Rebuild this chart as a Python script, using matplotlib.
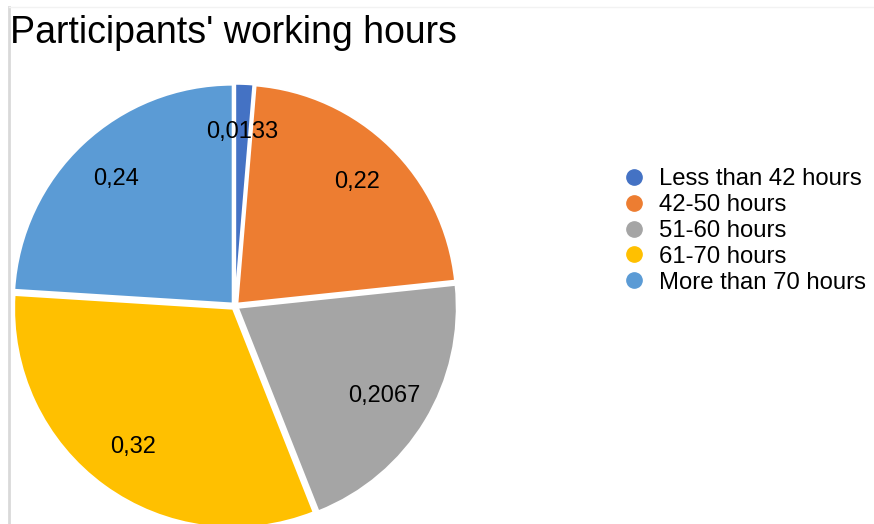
import matplotlib.pyplot as plt
from matplotlib.lines import Line2D

plt.rcParams['font.family'] = ['Liberation Sans', 'DejaVu Sans']

categories = ["Less than 42 hours", "42-50 hours", "51-60 hours", "61-70 hours", "More than 70 hours"]
values = [0.0133, 0.22, 0.2067, 0.32, 0.24]
colors = ["#4472C4", "#ED7D31", "#A5A5A5", "#FFC000", "#5B9BD5"]

W, H = 874, 524
fig = plt.figure(figsize=(W / 100, H / 100), dpi=100)

# pie axes: centre and radius in pixels
cx, cy, r = 235, 306, 219
ax = fig.add_axes([(cx - r) / W, (H - cy - r) / H, 2 * r / W, 2 * r / H])
wedges, texts, autotexts = ax.pie(values, colors=colors, startangle=90, counterclock=False,
                                  explode=[0.015] * len(values), autopct="%1.1f",
                                  pctdistance=0.78,
                                  wedgeprops=dict(edgecolor="white", linewidth=1.5))
for w in wedges:
    w.set_clip_on(False)
for t, v in zip(autotexts, values):
    t.set_text(str(v).replace(".", ","))
    t.set_fontsize(17)
    t.set_color("black")
ax.set_xlim(-1, 1)
ax.set_ylim(-1, 1)
ax.set_aspect("equal")
ax.axis("off")

fig.text(10 / W, 1 - 33 / H, "Participants' working hours", fontsize=27, va="center", ha="left")

handles = [Line2D([], [], marker="o", linestyle="", markersize=11, color=c) for c in colors]
fig.legend(handles, categories, loc="center left", bbox_to_anchor=(610 / W, 1 - 231 / H),
           frameon=False, fontsize=17.2, labelspacing=0.16, handletextpad=0.55,
           handlelength=1.0, borderpad=0)

# faint border of the chart area
fig.add_artist(Line2D([8.5 / W, 8.5 / W], [0, 1 - 7 / H], color="#D9D9D9", linewidth=2))
fig.add_artist(Line2D([8.5 / W, 1], [1 - 7 / H, 1 - 7 / H], color="#F2F2F2", linewidth=1))

fig.savefig("out.png", dpi=100)
